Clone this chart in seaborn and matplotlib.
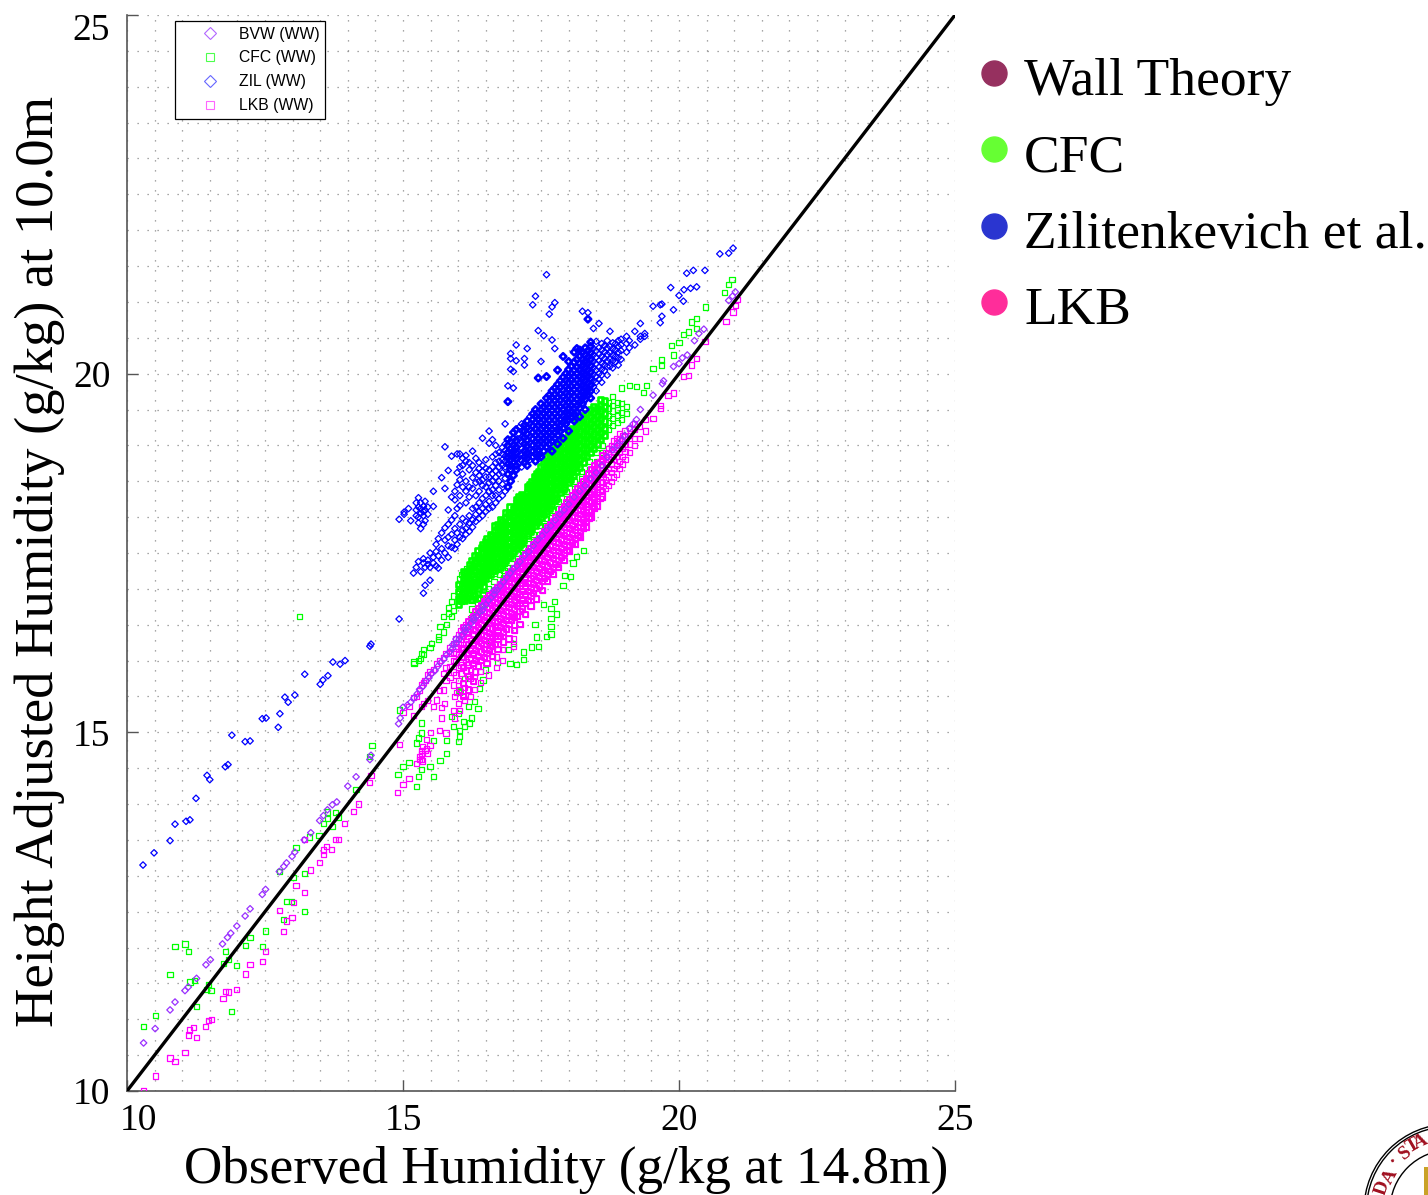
import math
import matplotlib
matplotlib.use("Agg")
import matplotlib.pyplot as plt
from matplotlib.lines import Line2D
from matplotlib.patches import Circle, Rectangle
from matplotlib.ticker import MultipleLocator
from matplotlib.transforms import IdentityTransform, ScaledTranslation
import pandas as pd
import seaborn as sns

# values: observed humidity -> adjusted humidity values
ZIL = {
    10.29: [13.15], 10.49: [13.32], 10.78: [13.49], 10.87: [13.72], 11.07: [13.76], 11.14: [13.78],
    11.25: [14.08], 11.45: [14.4], 11.5: [14.34], 11.78: [14.52], 11.83: [14.55], 11.9: [14.96],
    12.14: [14.87], 12.23: [14.88], 12.45: [15.19], 12.52: [15.2], 12.74: [15.07], 12.77: [15.26],
    12.86: [15.49], 12.92: [15.42], 13.04: [15.52], 13.22: [15.81], 13.5: [15.67], 13.55: [15.73],
    13.64: [15.79], 13.73: [15.98], 13.86: [15.95], 13.95: [16.0], 14.4: [16.2], 14.42: [16.23],
    14.93: [16.58, 17.97], 15.02: [18.07, 18.04], 15.1: [18.12], 15.14: [17.95], 15.19: [17.22],
    15.24: [17.3, 18.2, 18.02, 18.1], 15.28: [17.38, 17.92, 18.0, 18.14, 18.27],
    15.32: [17.24, 17.84, 18.05, 18.12, 18.2], 15.37: [16.94, 17.36, 17.42, 17.9, 18.02, 18.08, 18.15],
    15.4: [17.05, 17.3, 17.95, 18.1, 18.22], 15.45: [17.4, 17.34, 18.04, 18.14], 15.49: [17.12, 17.3, 17.5],
    15.55: [17.36, 17.44, 18.15, 18.36], 15.6: [17.32, 17.52, 17.62], 15.64: [17.29, 17.46, 17.7],
    15.7: [17.4, 17.56, 17.78, 18.55], 15.76: [17.5, 17.68, 17.85, 18.4, 18.98], 15.82: [17.44, 17.6, 17.72, 17.9, 18.1, 18.65],
    15.88: [17.58, 17.76, 17.96, 18.28, 18.85], 15.94: [17.56, 17.68, 17.84, 18.02, 18.24, 18.36],
    15.98: [17.62, 17.78, 18.12, 18.45, 18.62, 18.88], 16.03: [17.72, 17.9, 18.16, 18.3, 18.52, 18.7, 18.88],
    16.08: [17.7, 17.82, 17.98, 18.42, 18.6, 18.72, 18.82], 16.14: [17.76, 17.84, 17.94, 18.2, 18.36, 18.5, 18.78, 18.86],
    16.2: [17.8, 17.92, 18.02, 18.28, 18.42, 18.66, 18.76], 16.26: [17.86, 17.96, 18.12, 18.4, 18.55, 18.72, 18.92],
    16.32: [17.94, 18.04, 18.14, 18.3, 18.48, 18.62, 18.82], 16.38: [17.98, 18.08, 18.2, 18.36, 18.5, 18.58, 18.68, 18.76],
    16.44: [18.02, 18.12, 18.26, 18.44, 18.52, 18.64, 18.72, 19.1], 16.5: [18.08, 18.18, 18.3, 18.42, 18.56, 18.68, 18.8],
    16.56: [18.12, 18.22, 18.36, 18.48, 18.56, 18.66, 19.03, 19.2], 16.62: [18.14, 18.3, 18.38, 18.5, 18.6, 18.7, 18.84, 19.08],
    16.68: [18.2, 18.3, 18.44, 18.56, 18.64, 18.76, 18.88, 19.0], 16.74: [18.26, 18.38, 18.5, 18.6, 18.7, 18.78, 18.9],
    16.8: [18.3, 18.46, 18.62, 18.72, 18.8, 18.88, 18.97], 16.85: [18.36, 18.54, 18.7, 18.78, 18.85, 18.93, 19.02, 19.3],
    16.9: [18.42, 18.6, 18.74, 18.83, 18.9, 19.0, 19.08, 19.61, 19.83], 16.95: [18.5, 18.66, 18.72, 18.8, 18.87, 18.95, 19.05, 20.06, 20.21, 20.28],
    17.0: [18.58, 18.76, 18.84, 18.92, 19.0, 19.1, 19.18, 19.8, 20.03], 17.05: [18.66, 18.72, 18.82, 18.9, 18.98, 19.07, 19.22, 20.18, 20.4],
    17.1: [18.74, 18.83, 18.91, 19.0, 19.09, 19.16, 19.25], 17.15: [18.7, 18.78, 18.86, 18.95, 19.04, 19.12, 19.2, 19.3],
    17.2: [18.76, 18.84, 18.92, 19.02, 19.11, 19.2, 19.28, 20.12, 20.21], 17.25: [18.72, 18.82, 18.9, 18.99, 19.07, 19.16, 19.25, 19.34, 20.35],
    17.3: [18.8, 18.88, 18.96, 19.04, 19.13, 19.22, 19.3, 19.4], 17.35: [18.84, 18.92, 19.0, 19.09, 19.18, 19.27, 19.36, 19.44, 20.96],
    17.4: [18.78, 18.88, 18.96, 19.05, 19.14, 19.23, 19.32, 19.41, 19.5, 21.08], 17.45: [18.86, 18.94, 19.02, 19.1, 19.19, 19.28, 19.37, 19.46, 19.94, 20.6],
    17.5: [18.84, 18.98, 19.06, 19.14, 19.22, 19.31, 19.4, 19.49, 19.58, 20.17], 17.55: [18.92, 19.02, 19.1, 19.18, 19.27, 19.36, 19.45, 19.54, 20.53],
    17.6: [18.98, 19.06, 19.14, 19.22, 19.3, 19.39, 19.48, 19.57, 19.66, 19.96, 21.38], 17.65: [19.02, 19.1, 19.18, 19.26, 19.35, 19.44, 19.53, 19.62, 19.7, 20.83],
    17.7: [18.92, 19.06, 19.14, 19.22, 19.31, 19.4, 19.49, 19.58, 19.67, 19.76, 20.47, 20.93], 17.75: [19.1, 19.18, 19.26, 19.35, 19.44, 19.53, 19.62, 19.71, 19.8, 20.35, 20.99],
    17.8: [19.02, 19.14, 19.22, 19.31, 19.4, 19.49, 19.58, 19.67, 19.76, 19.85, 20.05], 17.85: [19.2, 19.28, 19.36, 19.45, 19.54, 19.63, 19.72, 19.81, 19.9],
    17.9: [19.1, 19.24, 19.32, 19.41, 19.5, 19.59, 19.68, 19.77, 19.86, 19.95, 20.24], 17.95: [19.3, 19.38, 19.46, 19.55, 19.64, 19.73, 19.82, 19.91, 20.0],
    18.0: [19.2, 19.36, 19.44, 19.52, 19.61, 19.7, 19.79, 19.88, 19.97, 20.06, 20.17], 18.05: [19.38, 19.46, 19.55, 19.64, 19.73, 19.82, 19.91, 20.0, 20.1],
    18.1: [19.34, 19.44, 19.52, 19.6, 19.69, 19.78, 19.87, 19.96, 20.05, 20.16, 20.3], 18.15: [19.46, 19.55, 19.64, 19.73, 19.82, 19.91, 20.0, 20.09, 20.2, 20.35],
    18.2: [19.4, 19.52, 19.6, 19.69, 19.78, 19.87, 19.96, 20.05, 20.14, 20.24, 20.33], 18.25: [19.58, 19.66, 19.75, 19.84, 19.93, 20.02, 20.11, 20.2, 20.3, 20.87],
    18.3: [19.5, 19.64, 19.72, 19.81, 19.9, 19.99, 20.08, 20.17, 20.26, 20.36], 18.35: [19.7, 19.78, 19.87, 19.96, 20.05, 20.14, 20.23, 20.32, 20.76, 20.85],
    18.4: [19.66, 19.76, 19.84, 19.93, 20.02, 20.11, 20.2, 20.29, 20.38, 20.44], 18.45: [19.82, 19.9, 19.99, 20.08, 20.17, 20.26, 20.35, 20.63],
    18.5: [19.76, 19.88, 19.96, 20.05, 20.14, 20.23, 20.32, 20.45], 18.55: [19.92, 20.0, 20.09, 20.18, 20.27, 20.36, 20.7],
    18.6: [19.88, 19.98, 20.06, 20.15, 20.24, 20.33, 20.42], 18.65: [20.04, 20.12, 20.21, 20.3, 20.39],
    18.7: [19.98, 20.1, 20.18, 20.27, 20.36, 20.46], 18.75: [20.1, 20.2, 20.29, 20.38, 20.59],
    18.8: [20.08, 20.18, 20.26, 20.35, 20.43], 18.85: [20.16, 20.24, 20.33, 20.42],
    18.9: [20.12, 20.22, 20.3, 20.38, 20.46], 18.95: [20.2, 20.32, 20.4, 20.48],
    19.05: [20.3, 20.42, 20.52], 19.1: [20.36, 20.46], 19.2: [20.59, 20.4], 19.3: [20.48, 20.52, 20.7],
    19.38: [20.52, 20.56], 19.53: [20.94], 19.66: [20.71, 20.96], 19.69: [20.8, 20.97], 19.85: [21.2],
    19.9: [20.89], 20.0: [21.09], 20.08: [21.01], 20.09: [21.17], 20.14: [21.4], 20.21: [21.19],
    20.26: [21.44], 20.32: [21.21], 20.47: [21.44], 20.74: [21.67], 20.9: [21.68], 20.98: [21.75],
}

CFC = {
    10.3: [10.9], 10.51: [11.05], 10.78: [11.62], 10.87: [12.02], 11.05: [12.05], 11.11: [11.95],
    11.14: [11.52], 11.23: [11.54], 11.26: [11.18], 11.44: [11.41], 11.47: [11.48], 11.52: [11.4],
    11.75: [11.78], 11.79: [11.94], 11.84: [11.83], 11.9: [11.11], 11.99: [11.75], 12.14: [12.03],
    12.23: [12.14], 12.45: [12.02], 12.51: [12.23], 12.76: [13.06], 12.83: [12.39], 12.89: [12.64],
    12.98: [12.64], 13.02: [12.98], 13.06: [13.39], 13.12: [16.62], 13.21: [12.5, 13.03], 13.31: [13.54],
    13.48: [13.56], 13.56: [13.73], 13.63: [13.8, 13.89], 13.72: [13.69], 13.78: [13.88], 13.83: [13.82],
    14.15: [14.2], 14.4: [14.66], 14.44: [14.82], 14.91: [14.41], 14.93: [15.31], 15.0: [14.52],
    15.11: [14.58], 15.2: [15.96, 15.98], 15.24: [14.24, 14.85], 15.28: [14.38, 14.92, 16.0], 15.31: [16.03],
    15.34: [14.48, 14.99, 15.13, 16.1], 15.37: [16.15, 16.08], 15.49: [14.52, 16.18], 15.52: [16.24], 15.55: [14.38, 14.89],
    15.64: [16.29, 16.34], 15.67: [14.61, 16.47], 15.73: [16.61, 16.4], 15.79: [14.71, 14.89, 16.5], 15.82: [16.66, 16.74],
    15.88: [15.22, 16.82, 16.62], 15.91: [15.08, 16.7, 16.9], 16.0: [14.87, 15.26, 16.87, 16.96, 16.78, 17.06],
    16.03: [14.94, 15.03, 15.57, 16.84, 17.0, 17.14], 16.06: [16.82, 16.92, 17.04, 17.2], 16.09: [15.15, 16.86, 16.96, 17.08, 17.15, 17.24],
    16.12: [15.08, 15.75, 16.84, 16.94, 17.03, 17.12, 17.22], 16.15: [16.88, 16.98, 17.1, 17.18, 17.28],
    16.18: [15.36, 16.9, 17.02, 17.14, 17.26, 17.06], 16.21: [15.13, 16.94, 17.04, 17.12, 17.24, 17.34],
    16.24: [15.2, 16.86, 16.98, 17.08, 17.2, 17.3, 17.4], 16.27: [16.98, 17.1, 17.22, 17.32], 16.3: [15.43, 16.9, 17.04, 17.14, 17.26, 17.36, 17.46],
    16.36: [15.33, 16.87, 17.0, 17.1, 17.2, 17.32, 17.44, 17.54], 16.39: [15.61, 16.87, 17.06, 17.18, 17.3, 17.42],
    16.43: [17.5, 17.1, 17.2, 17.36, 17.44, 17.58], 16.45: [15.73, 17.18, 17.28, 17.38, 17.5, 17.62],
    16.49: [15.87, 17.14, 17.24, 17.34, 17.46, 17.56, 17.66], 16.52: [17.2, 17.3, 17.42, 17.52, 17.61, 17.7],
    16.58: [16.26, 17.2, 17.3, 17.4, 17.5, 17.6, 17.68, 17.76], 16.62: [17.26, 17.36, 17.46, 17.56, 17.66, 17.74],
    16.66: [17.26, 17.38, 17.5, 17.6, 17.7, 17.8, 17.88], 16.71: [15.97, 17.3, 17.42, 17.52, 17.62, 17.72, 17.82, 17.9],
    16.76: [17.3, 17.4, 17.5, 17.6, 17.7, 17.8, 17.9, 17.96], 16.8: [17.36, 17.46, 17.56, 17.66, 17.76, 17.86, 17.94],
    16.85: [17.4, 17.5, 17.6, 17.7, 17.8, 17.9, 18.0, 18.06], 16.91: [16.15, 17.44, 17.54, 17.64, 17.74, 17.84, 17.94, 18.04],
    16.94: [15.96, 17.46, 17.56, 17.66, 17.76, 17.86, 17.96, 18.06, 18.14], 17.0: [16.24, 17.52, 17.62, 17.72, 17.82, 17.92, 18.02, 18.12],
    17.05: [15.95, 17.56, 17.66, 17.76, 17.86, 17.96, 18.06, 18.16, 18.24], 17.1: [17.6, 17.7, 17.8, 17.9, 18.0, 18.1, 18.2, 18.28],
    17.15: [17.64, 17.74, 17.84, 17.94, 18.04, 18.14, 18.24, 18.32], 17.19: [16.01, 16.12, 17.68, 17.78, 17.88, 17.98, 18.08, 18.18, 18.28],
    17.25: [17.74, 17.84, 17.94, 18.04, 18.14, 18.24, 18.34, 18.42], 17.3: [17.8, 17.9, 18.0, 18.1, 18.2, 18.3, 18.4, 18.46],
    17.33: [16.19, 17.84, 17.94, 18.04, 18.14, 18.24, 18.34, 18.44, 18.5], 17.39: [16.5, 17.88, 17.98, 18.08, 18.18, 18.28, 18.38, 18.48, 18.56],
    17.42: [16.33, 17.92, 18.02, 18.12, 18.22, 18.32, 18.42, 18.52, 18.6], 17.45: [16.2, 17.94, 18.06, 18.16, 18.26, 18.36, 18.46, 18.56, 18.64],
    17.5: [18.0, 18.1, 18.2, 18.3, 18.4, 18.5, 18.6, 18.7], 17.54: [16.78, 18.04, 18.14, 18.24, 18.34, 18.44, 18.54, 18.64, 18.74],
    17.6: [16.34, 18.08, 18.18, 18.28, 18.38, 18.48, 18.58, 18.68, 18.78, 18.84], 17.65: [18.12, 18.22, 18.32, 18.42, 18.52, 18.62, 18.72, 18.82, 18.9],
    17.68: [16.37, 16.47, 16.59, 16.73, 18.16, 18.26, 18.36, 18.46, 18.56, 18.66, 18.76, 18.86], 17.75: [16.82, 18.24, 18.34, 18.44, 18.54, 18.64, 18.74, 18.84, 18.94],
    17.78: [16.65, 18.26, 18.38, 18.48, 18.58, 18.68, 18.78, 18.88, 18.98], 17.85: [18.34, 18.44, 18.54, 18.64, 18.74, 18.84, 18.94, 19.04],
    17.9: [17.05, 18.38, 18.48, 18.58, 18.68, 18.78, 18.88, 18.98, 19.08], 17.93: [17.19, 18.42, 18.52, 18.62, 18.72, 18.82, 18.92, 19.02, 19.1],
    18.0: [18.48, 18.58, 18.68, 18.78, 18.88, 18.98, 19.08, 19.16], 18.03: [17.17, 18.52, 18.62, 18.72, 18.82, 18.92, 19.02, 19.12, 19.2],
    18.08: [17.36, 18.58, 18.68, 18.78, 18.88, 18.98, 19.08, 19.18, 19.24], 18.15: [17.45, 18.64, 18.74, 18.84, 18.94, 19.04, 19.14, 19.24, 19.32],
    18.2: [18.7, 18.8, 18.9, 19.0, 19.1, 19.2, 19.3, 19.36], 18.27: [17.54, 18.76, 18.86, 18.96, 19.06, 19.16, 19.26, 19.36, 19.42],
    18.33: [18.84, 18.94, 19.04, 19.14, 19.24, 19.34, 19.44], 18.4: [18.9, 19.0, 19.1, 19.2, 19.3, 19.4, 19.5],
    18.45: [18.96, 19.06, 19.16, 19.26, 19.36, 19.46, 19.54], 18.52: [19.02, 19.12, 19.22, 19.32, 19.42, 19.52],
    18.58: [19.08, 19.18, 19.28, 19.38, 19.48, 19.56, 19.64], 18.65: [19.14, 19.24, 19.34, 19.44, 19.54, 19.62],
    18.72: [19.22, 19.32, 19.42, 19.52, 19.6], 18.8: [19.28, 19.38, 19.48, 19.56, 19.68],
    18.88: [19.32, 19.42, 19.5, 19.6], 18.96: [19.36, 19.46, 19.58, 19.8], 19.05: [19.44, 19.54], 19.11: [19.84],
    19.23: [19.82], 19.35: [19.74], 19.41: [19.83], 19.53: [20.07], 19.69: [20.12, 20.19], 19.87: [20.39],
    19.9: [20.26], 20.0: [20.44], 20.08: [20.55], 20.17: [20.58], 20.22: [20.72], 20.32: [20.63, 20.77],
    20.48: [20.93], 20.83: [21.13], 20.89: [21.24], 20.96: [21.31],
}

# lower edge of the green cloud, next to the magenta one
CFC_LOWER = {
    16.25: [16.6, 16.72, 16.84], 16.35: [16.68, 16.8, 16.94], 16.45: [16.78, 16.92, 17.04], 16.55: [16.88, 17.0, 17.14],
    16.65: [16.98, 17.1, 17.22], 16.75: [17.08, 17.2, 17.3], 16.83: [17.16, 17.26, 17.36], 16.89: [17.2, 17.3, 17.42],
    16.98: [17.3, 17.42], 17.08: [17.38, 17.5], 17.18: [17.48, 17.58], 17.28: [17.58, 17.7], 17.36: [17.66, 17.76],
    17.48: [17.76, 17.88], 17.58: [17.88, 17.98], 17.7: [18.0, 18.1], 17.82: [18.12, 18.22], 17.96: [18.26, 18.36],
    18.1: [18.4, 18.5], 18.24: [18.54, 18.64], 18.38: [18.66, 18.78], 18.5: [18.78, 18.9], 18.62: [18.9, 19.0],
}

LKB = {
    10.3: [10.0], 10.51: [10.21], 10.78: [10.46], 10.87: [10.41], 11.05: [10.54], 11.11: [10.78], 11.13: [10.85],
    11.21: [10.89], 11.26: [10.75], 11.42: [10.9], 11.47: [10.98], 11.53: [11.0], 11.74: [11.29], 11.79: [11.39],
    11.84: [11.38], 11.99: [11.42], 12.14: [11.63], 12.23: [11.76], 12.45: [11.81], 12.51: [11.95], 12.76: [12.52],
    12.84: [12.22], 12.89: [12.37], 12.99: [12.42], 13.02: [12.63], 13.06: [12.86], 13.21: [12.77, 13.51],
    13.33: [13.08], 13.49: [13.19], 13.56: [13.3, 13.36], 13.62: [13.41], 13.71: [13.37], 13.77: [13.51],
    13.83: [13.51], 13.94: [13.73], 14.1: [13.9], 14.2: [14.0], 14.4: [14.3], 14.42: [14.4], 14.9: [14.16],
    14.93: [14.83], 15.0: [14.27, 15.28], 15.11: [14.36, 15.36], 15.19: [15.24, 15.48], 15.25: [14.57, 15.5],
    15.3: [14.62, 14.66, 15.58], 15.34: [14.71, 15.36, 15.66], 15.37: [15.4, 15.7], 15.4: [14.75, 15.72],
    15.45: [14.7, 15.44, 15.8], 15.49: [14.82, 15.84], 15.55: [15.36, 15.88], 15.61: [15.45, 15.96],
    15.66: [15.02, 15.58, 16.0], 15.73: [15.59, 16.04, 15.82], 15.78: [14.99, 15.72, 15.9, 16.1], 15.85: [15.76, 15.92, 16.1, 16.18],
    15.91: [15.3, 15.66, 15.84, 16.0, 16.12, 16.24], 15.96: [15.8, 15.98, 16.1, 16.2, 16.3], 16.0: [15.4, 15.72, 15.9, 16.08, 16.24, 16.36],
    16.05: [15.82, 15.94, 16.06, 16.18, 16.3, 16.42], 16.09: [15.5, 15.68, 15.9, 16.04, 16.16, 16.34, 16.46], 16.14: [15.86, 15.98, 16.12, 16.26, 16.38, 16.5],
    16.18: [15.59, 15.78, 15.94, 16.08, 16.22, 16.4, 16.54], 16.23: [15.88, 16.02, 16.14, 16.28, 16.44, 16.58], 16.27: [15.71, 15.96, 16.1, 16.24, 16.36, 16.5, 16.62],
    16.32: [15.84, 16.0, 16.14, 16.28, 16.42, 16.56, 16.68], 16.37: [15.92, 16.06, 16.2, 16.34, 16.46, 16.6, 16.72], 16.42: [16.0, 16.12, 16.24, 16.36, 16.5, 16.64, 16.76],
    16.47: [16.04, 16.16, 16.28, 16.42, 16.56, 16.68, 16.82], 16.52: [15.96, 16.1, 16.22, 16.34, 16.46, 16.6, 16.74, 16.86], 16.57: [16.14, 16.26, 16.38, 16.52, 16.66, 16.8, 16.9],
    16.62: [16.06, 16.2, 16.32, 16.44, 16.56, 16.7, 16.84, 16.94], 16.67: [16.22, 16.34, 16.46, 16.6, 16.74, 16.88, 16.98], 16.72: [16.16, 16.3, 16.42, 16.54, 16.66, 16.8, 16.92, 17.02],
    16.77: [16.34, 16.46, 16.58, 16.7, 16.84, 16.96, 17.06], 16.82: [16.26, 16.4, 16.52, 16.64, 16.76, 16.88, 17.0, 17.1], 16.87: [16.44, 16.56, 16.68, 16.8, 16.92, 17.04, 17.14],
    16.92: [16.3, 16.5, 16.62, 16.74, 16.86, 16.98, 17.1, 17.2], 16.97: [16.56, 16.66, 16.78, 16.9, 17.02, 17.14, 17.24], 17.02: [16.42, 16.6, 16.72, 16.84, 16.96, 17.08, 17.18, 17.28],
    17.07: [16.62, 16.76, 16.88, 17.0, 17.12, 17.24, 17.34], 17.12: [16.5, 16.68, 16.8, 16.92, 17.04, 17.16, 17.28, 17.38], 17.17: [16.72, 16.84, 16.96, 17.08, 17.2, 17.32, 17.42],
    17.22: [16.64, 16.8, 16.92, 17.04, 17.16, 17.28, 17.38, 17.48], 17.27: [16.84, 16.96, 17.08, 17.2, 17.32, 17.44, 17.52], 17.32: [16.76, 16.9, 17.02, 17.14, 17.26, 17.38, 17.48, 17.56],
    17.37: [16.94, 17.06, 17.18, 17.3, 17.42, 17.54, 17.62], 17.42: [16.86, 17.0, 17.12, 17.24, 17.36, 17.48, 17.58, 17.66], 17.47: [17.04, 17.16, 17.28, 17.4, 17.52, 17.62, 17.7],
    17.52: [16.98, 17.1, 17.22, 17.34, 17.46, 17.58, 17.68, 17.76], 17.57: [17.14, 17.26, 17.38, 17.5, 17.62, 17.72, 17.8], 17.62: [17.1, 17.2, 17.32, 17.44, 17.56, 17.68, 17.78, 17.86],
    17.67: [17.24, 17.36, 17.48, 17.6, 17.72, 17.82, 17.9], 17.72: [17.2, 17.3, 17.42, 17.54, 17.66, 17.78, 17.88, 17.94], 17.77: [17.34, 17.46, 17.58, 17.7, 17.82, 17.92, 18.0],
    17.82: [17.3, 17.4, 17.52, 17.64, 17.76, 17.88, 17.98, 18.04], 17.87: [17.44, 17.56, 17.68, 17.8, 17.92, 18.02, 18.1], 17.92: [17.4, 17.5, 17.62, 17.74, 17.86, 17.98, 18.08, 18.14],
    17.97: [17.54, 17.66, 17.78, 17.9, 18.02, 18.12, 18.2], 18.02: [17.52, 17.6, 17.72, 17.84, 17.96, 18.08, 18.18, 18.24], 18.07: [17.64, 17.76, 17.88, 18.0, 18.12, 18.22, 18.3],
    18.12: [17.62, 17.7, 17.82, 17.94, 18.06, 18.18, 18.28, 18.34], 18.17: [17.74, 17.86, 17.98, 18.1, 18.22, 18.32, 18.4], 18.22: [17.72, 17.8, 17.92, 18.04, 18.16, 18.28, 18.38, 18.44],
    18.27: [17.84, 17.96, 18.08, 18.2, 18.32, 18.42, 18.5], 18.32: [17.86, 17.94, 18.06, 18.18, 18.3, 18.4, 18.48, 18.54], 18.37: [17.98, 18.1, 18.22, 18.34, 18.46, 18.54, 18.6],
    18.42: [18.0, 18.08, 18.2, 18.32, 18.44, 18.52, 18.6, 18.66], 18.47: [18.12, 18.24, 18.36, 18.48, 18.58, 18.66, 18.72], 18.52: [18.15, 18.22, 18.34, 18.46, 18.58, 18.66, 18.74],
    18.57: [18.26, 18.38, 18.5, 18.62, 18.7, 18.78], 18.62: [18.28, 18.36, 18.48, 18.6, 18.72, 18.8, 18.86], 18.67: [18.4, 18.52, 18.64, 18.76, 18.84, 18.9],
    18.72: [18.44, 18.56, 18.68, 18.8, 18.88, 18.96], 18.77: [18.5, 18.62, 18.74, 18.84, 18.94, 19.0], 18.82: [18.56, 18.68, 18.8, 18.9, 18.98, 19.06],
    18.87: [18.6, 18.72, 18.84, 18.94, 19.04, 19.1], 18.92: [18.68, 18.78, 18.9, 19.0, 19.1, 19.16], 18.97: [18.74, 18.84, 18.96, 19.06, 19.14],
    19.02: [18.8, 18.92, 19.02, 19.12, 19.2], 19.1: [18.9, 19.02, 19.14, 19.24], 19.2: [19.0, 19.1, 19.22, 19.3], 19.29: [19.1, 19.26],
    19.4: [19.2, 19.36], 19.53: [19.37], 19.66: [19.52, 19.56], 19.8: [19.7], 19.9: [19.73], 20.08: [19.96], 20.17: [19.98],
    20.23: [20.12], 20.32: [20.21], 20.47: [20.45], 20.85: [20.73], 20.98: [20.86], 21.03: [20.95], 21.06: [21.03],
}

# lower tail of the magenta cloud
LKB_TAIL = {
    15.33: [14.62, 14.75], 15.36: [14.6, 14.8], 15.42: [14.78, 14.9], 15.5: [15.0], 15.7: [15.2, 15.35], 15.75: [15.4],
    15.93: [15.2, 15.5], 15.97: [15.55], 16.02: [15.3, 15.6], 16.12: [15.45, 15.62], 16.22: [15.5, 15.75],
    16.3: [15.6, 15.78], 16.4: [15.7, 15.85], 16.55: [15.8], 16.7: [15.9, 16.05], 16.8: [16.0, 16.15], 17.0: [16.2, 16.3],
}

BVW = {
    10.3: [10.67], 10.51: [10.87], 10.78: [11.13], 10.87: [11.24], 11.05: [11.4], 11.11: [11.45], 11.26: [11.57],
    11.43: [11.76], 11.51: [11.83], 11.73: [12.05], 11.82: [12.14], 11.88: [12.2], 11.99: [12.3], 12.14: [12.44],
    12.23: [12.54], 12.45: [12.74], 12.51: [12.81], 12.76: [13.06], 12.84: [13.13], 12.89: [13.18], 12.99: [13.27],
    13.04: [13.33], 13.21: [13.5], 13.33: [13.6], 13.49: [13.77], 13.56: [13.84], 13.63: [13.92], 13.72: [13.99],
    13.8: [14.03], 14.0: [14.25], 14.15: [14.38], 14.4: [14.62], 14.42: [14.68], 14.92: [15.12], 14.95: [15.2],
    15.0: [15.35], 15.08: [15.38], 15.14: [15.42], 15.2: [15.48], 15.26: [15.54], 15.3: [15.6], 15.36: [15.64],
    15.42: [15.72], 15.47: [15.76], 15.52: [15.82], 15.58: [15.86], 15.63: [15.92], 15.68: [15.97], 15.74: [16.02],
    15.79: [16.08], 15.84: [16.12], 15.9: [16.17, 16.22], 15.96: [16.24, 16.3], 16.02: [16.3], 16.07: [16.36], 16.12: [16.4, 16.45],
    16.18: [16.46], 16.23: [16.52], 16.28: [16.56, 16.6], 16.34: [16.62], 16.39: [16.68], 16.44: [16.7, 16.76], 16.5: [16.78],
    16.55: [16.84], 16.6: [16.88], 16.65: [16.92, 16.98], 16.7: [16.98], 16.76: [17.04], 16.82: [17.1], 16.88: [17.16],
    16.94: [17.22], 17.0: [17.28], 17.06: [17.32], 17.12: [17.38], 17.2: [17.46], 17.28: [17.52], 17.36: [17.6], 17.44: [17.68],
    17.52: [17.74], 17.6: [17.82], 17.68: [17.88], 17.76: [17.96], 17.84: [18.04], 17.92: [18.1], 18.0: [18.18], 18.1: [18.28],
    18.2: [18.36], 18.3: [18.44], 18.4: [18.54], 18.5: [18.62], 18.6: [18.72], 18.7: [18.84], 18.8: [18.94], 18.88: [19.0],
    18.96: [19.07], 19.02: [19.14], 19.1: [19.24], 19.17: [19.3], 19.23: [19.36], 19.3: [19.5], 19.53: [19.7], 19.7: [19.86],
    19.72: [19.9], 19.9: [20.1], 20.0: [20.14], 20.06: [20.22], 20.15: [20.26], 20.28: [20.46], 20.36: [20.56], 20.45: [20.62],
    20.9: [21.02], 20.97: [21.08], 21.02: [21.14],
}

SERIES = [("BVW (WW)", "#b266ff", "D"), ("CFC (WW)", "#4dff4d", "s"), ("ZIL (WW)", "#6666ff", "D"), ("LKB (WW)", "#ff66ff", "s")]
NOTES = ["Wall Theory", "CFC", "Zilitenkevich et al.", "LKB"]
NOTE_COLORS = ["#96305f", "#66ff33", "#2a35d0", "#ff2d9a"]
TICKS = [10, 15, 20, 25]
SEAL_LETTERS = ["D", "A", "·", "S", "T", "A"]


def to_frame(*groups):
    rows = [(x, y) for columns in groups for x, ys in columns.items() for y in ys]
    return pd.DataFrame(rows, columns=["observed", "adjusted"])


def dense_part(frame, min_count):
    # the solid middle of a cloud: tall columns, without their outliers
    grouped = frame.groupby("observed")["adjusted"]
    keep = (grouped.transform("size") >= min_count) & ((frame["adjusted"] - grouped.transform("median")).abs() < 0.75)
    return frame[keep]


W, H = 1428, 1195
sns.set_style("white")
plt.rcParams["font.family"] = ["Liberation Serif", "DejaVu Serif"]
plt.rcParams["text.color"] = "black"
plt.rcParams["xtick.labelcolor"] = "black"
plt.rcParams["ytick.labelcolor"] = "black"

fig = plt.figure(figsize=(W / 100, H / 100), dpi=100)
ax = fig.add_axes([127 / W, 1 - 1091 / H, 828 / W, 1076 / H])

plots = [
    (to_frame(CFC, CFC_LOWER), "#00ff00", "s", 14, 6, 1.9),
    (to_frame(ZIL), "#0000ff", "D", 11, 9, 1.9),
    (to_frame(LKB, LKB_TAIL), "#ff00ff", "s", 14, 7, 1.4),
    (to_frame(BVW), "#9a30ff", "D", 11, 99, 1.9),
]
for frame, color, mark, size, min_count, thick in plots:
    sns.scatterplot(data=frame, x="observed", y="adjusted", marker=mark, s=size,
                    facecolors="none", edgecolor=color, linewidth=0.9, ax=ax, zorder=3)
    dense = dense_part(frame, min_count)
    if len(dense):
        sns.scatterplot(data=dense, x="observed", y="adjusted", marker=mark, s=size,
                        facecolors="none", edgecolor=color, linewidth=thick, ax=ax, zorder=3)

sns.lineplot(x=[10, 25], y=[10, 25], color="black", linewidth=2.4, ax=ax, zorder=4)

ax.set_xlim(10, 25)
ax.set_ylim(10, 25)
ax.set_xticks(TICKS)
ax.set_yticks(TICKS)
ax.xaxis.set_minor_locator(MultipleLocator(0.5))
ax.yaxis.set_minor_locator(MultipleLocator(0.5))
ax.grid(which="both", color="#8a8a8a", linewidth=0.9, linestyle=(0, (1, 7)))
ax.set_axisbelow(True)
sns.despine(ax=ax)
for side in ["left", "bottom"]:
    ax.spines[side].set_color("#555555")
    ax.spines[side].set_linewidth(1.2)
ax.tick_params(which="major", direction="in", length=8, width=1, color="#555555", labelsize=27,
               left=True, bottom=True)
ax.tick_params(axis="x", which="major", pad=9)
ax.tick_params(axis="y", which="major", pad=12)
ax.tick_params(which="minor", length=0)
ax.set_xlabel("")
ax.set_ylabel("")

# first x label sits to the right of its tick, top y label below its tick
first = ax.get_xticklabels()[0]
first.set_transform(first.get_transform() + ScaledTranslation(11 / 100, 0, fig.dpi_scale_trans))
top = ax.get_yticklabels()[-1]
top.set_transform(top.get_transform() + ScaledTranslation(0, -12 / 100, fig.dpi_scale_trans))

fig.text(566 / W, 1 - 1170 / H, "Observed Humidity (g/kg at 14.8m)", fontsize=38.3, ha="center", va="center")
fig.text(40 / W, 1 - 561 / H, "Height Adjusted Humidity (g/kg) at 10.0m", fontsize=39.3, rotation=90, ha="center", va="center")

handles = [Line2D([], [], linestyle="none", marker=m, markersize=6.3 if m == "D" else 5.6, markerfacecolor="none",
                  markeredgecolor=c, markeredgewidth=0.8, label=n) for n, c, m in SERIES]
leg = ax.legend(handles=handles, loc="upper left", bbox_to_anchor=(48 / 828, 1 - 6 / 1076), borderaxespad=0,
                prop={"family": "Liberation Sans", "size": 11.3}, frameon=True, fancybox=False, framealpha=1,
                edgecolor="black", labelspacing=0.56, handletextpad=0.0, borderpad=0.36, handlelength=3.7)
leg.get_frame().set_linewidth(0.9)
leg.set_zorder(6)

# big annotation key on the right
for label, color, ypx in zip(NOTES, NOTE_COLORS, [73, 149, 226, 302]):
    fig.add_artist(Line2D([994 / W], [1 - ypx / H], marker="o", markersize=18, color=color, linestyle="none",
                          transform=fig.transFigure))
    fig.text(1024 / W, 1 - (ypx + 9) / H, label, fontsize=38.5, ha="left", va="center")

# university seal, cut off by the corner of the page
for radius, lw in [(86, 1), (83.5, 1), (60, 1)]:
    fig.add_artist(Circle((1450, H - 1210), radius, fill=False, edgecolor="black", linewidth=lw,
                          transform=IdentityTransform()))
fig.add_artist(Rectangle((1424, 0), 4, 28, facecolor="#c9a227", edgecolor="none", transform=IdentityTransform()))
for letter, (px, py) in zip(SEAL_LETTERS, [(1383, 1188), (1390, 1177), (1394, 1161), (1405, 1153), (1413, 1146), (1420, 1142)]):
    rot = math.degrees(math.atan2(1450 - px, 1210 - py))
    fig.text(px / W, 1 - py / H, letter, fontsize=14, fontweight="bold", color="#a01020", rotation=rot,
             ha="center", va="center", rotation_mode="anchor")

fig.savefig("out.png", dpi=100)
